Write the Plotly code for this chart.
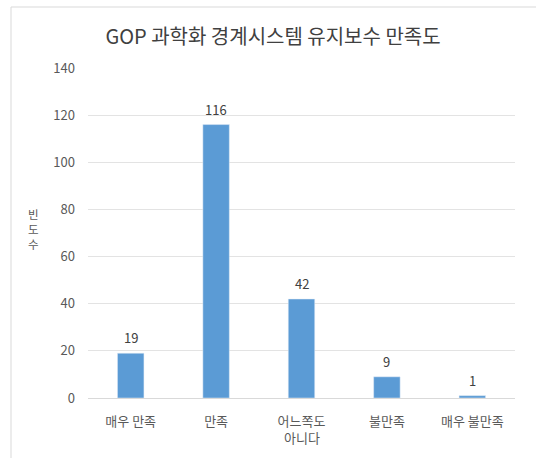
import plotly.graph_objects as go

categories = ["매우 만족", "만족", "어느쪽도<br>아니다", "불만족", "매우 불만족"]
values = [19, 116, 42, 9, 1]
y_ticks = [0, 20, 40, 60, 80, 100, 120, 140]

W, H = 536, 458
ml, mr, mt, mb = 88, 21, 68, 60
font = "Noto Sans CJK KR"

fig = go.Figure(go.Bar(
    x=categories, y=values, marker_color="#5B9BD5",
    width=0.31, cliponaxis=False,
))

pw, ph = W - ml - mr, H - mt - mb
def px_x(p):
    return (p - ml) / pw
def px_y(p):
    return 1 - (p - mt) / ph

annotations = [dict(x=c, y=v, text=str(v), showarrow=False, yanchor="bottom", yshift=4,
                    font=dict(size=13, color="#404040", family=font))
               for c, v in zip(categories, values)]
# second lines of category labels, with the reference's wider line spacing
for c in categories:
    lines = c.split("<br>")
    for j, ln in enumerate(lines[1:], start=1):
        annotations.append(dict(x=c, xref="x", yref="paper", y=px_y(417 + 20 * j),
                                text=ln, showarrow=False, yanchor="middle",
                                font=dict(size=13, color="#595959", family=font)))
annotations.append(dict(text="빈<br>도<br>수", xref="paper", yref="paper",
                        x=px_x(33), y=px_y(229), showarrow=False,
                        font=dict(size=11.5, color="#595959", family=font),
                        xanchor="center", yanchor="middle"))

fig.update_layout(
    width=W, height=H,
    margin=dict(l=ml, r=mr, t=mt, b=mb),
    paper_bgcolor="white", plot_bgcolor="white",
    font=dict(family=font, color="#595959", size=12),
    title=dict(text="GOP 과학화 경계시스템 유지보수 만족도", x=273 / W, xanchor="center",
               y=1 - 37 / H, yanchor="middle", font=dict(size=20, color="#404040", family=font)),
    xaxis=dict(showgrid=False, showline=True, linecolor="#D9D9D9", ticks="",
               tickvals=categories, ticktext=[c.split("<br>")[0] for c in categories],
               automargin=False,
               ticklabelstandoff=11, tickfont=dict(size=13, color="#595959")),
    yaxis=dict(range=[0, 140], tickvals=y_ticks, showgrid=True, gridcolor="#E3E3E3",
               zeroline=False, showline=False, ticks="", ticklen=0, automargin=False,
               ticklabelstandoff=12, tickfont=dict(size=13, color="#595959")),
    showlegend=False,
    annotations=annotations,
    shapes=[dict(type="rect", xref="paper", yref="paper",
                 x0=px_x(11), x1=px_x(540), y0=px_y(462), y1=px_y(7),
                 line=dict(color="#D9D9D9", width=1), layer="below")],
)

fig.write_html("out.html")
